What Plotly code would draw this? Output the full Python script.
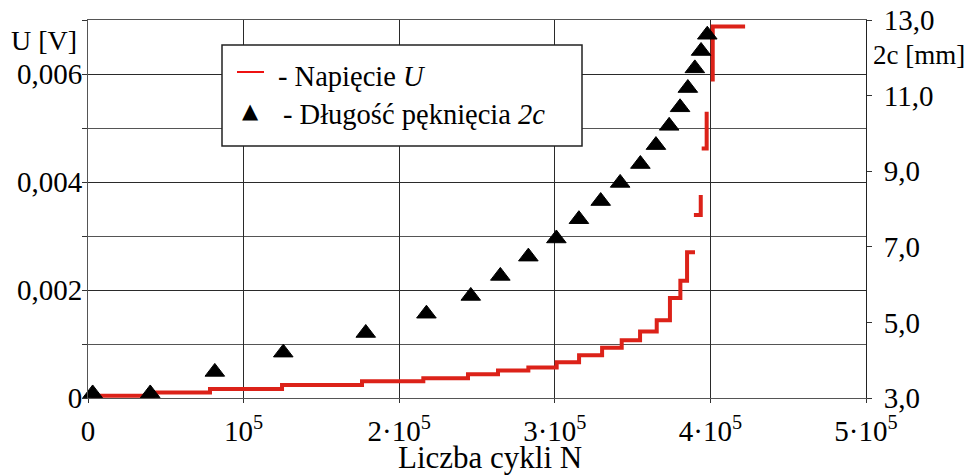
import plotly.graph_objects as go

# ---- data ----
# crack length 2c [mm] vs number of cycles N (right axis)
N_crack = [3000, 40000, 81500, 125500, 178500, 217500, 246000, 265000, 283000, 301000,
           315500, 329500, 342000, 355000, 365000, 373500, 380500, 385500, 390000, 394000, 398000]
crack_2c = [3.12, 3.12, 3.69, 4.20, 4.72, 5.23, 5.70, 6.23, 6.74, 7.22,
            7.73, 8.21, 8.69, 9.19, 9.69, 10.20, 10.69, 11.20, 11.72, 12.18, 12.61]

# voltage U [V] vs N (left axis), step-wise, None = gap in the record
N_volt = [2000, 41800, 78400, 124700, 176100, 215500, 244200, 263500, 283000, 301200,
          315600, 330400, 343000, 354800, 365500, 374000, 380700, 385000, 390100, None,
          389400, 393800, None,
          394400, 397600, None,
          401500, 401500, 422300]
U_volt = [0.00004, 0.00010, 0.000167, 0.00024, 0.00031, 0.000365, 0.00044, 0.00051, 0.000565, 0.00066,
          0.00079, 0.00093, 0.00107, 0.00123, 0.00144, 0.00185, 0.00217, 0.00270, 0.00270, None,
          0.00339, 0.00376, None,
          0.00462, 0.00530, None,
          0.00586, 0.00688, 0.00688]

x_tickvals = [0, 100000, 200000, 300000, 400000, 500000]
x_ticktext = ["0", "10<sup>5</sup>", "2·10<sup>5</sup>", "3·10<sup>5</sup>", "4·10<sup>5</sup>", "5·10<sup>5</sup>"]
y_tickvals = [0, 0.002, 0.004, 0.006]
y_ticktext = ["0", "0,002", "0,004", "0,006"]
y_minor_step = 0.001
y2_tickvals = [3, 5, 7, 9, 11, 13]
y2_ticktext = ["3,0", "5,0", "7,0", "9,0", "11,0", "13,0"]

FONT = "Liberation Serif"
RED = "#dc2219"
GRID = "#2a2a2a"

fig = go.Figure()
fig.add_trace(go.Scatter(
    x=N_volt, y=U_volt, mode="lines", line=dict(color=RED, width=4, shape="hv"),
    connectgaps=False, showlegend=False, yaxis="y", cliponaxis=False))
fig.add_trace(go.Scatter(
    x=N_crack, y=crack_2c, mode="markers",
    marker=dict(symbol="triangle-up", size=17, color="black", line=dict(color="black", width=1)),
    showlegend=False, yaxis="y2", cliponaxis=False))

# the page body has an 8px margin, so the figure is made 8px smaller and
# everything is laid out in page pixels minus that offset
OFF = 8
W, H = 972 - OFF, 475 - OFF
PX0, PX1, PY0, PY1 = 88, 866, 20, 398          # plot area in page pixels
L, R, T, B = PX0 - OFF, W - (PX1 - OFF), PY0 - OFF, H - (PY1 - OFF)
pw, ph = PX1 - PX0, PY1 - PY0


def px(x):
    return (x - PX0) / pw


def py(y):
    return (PY1 - y) / ph


fig.update_layout(
    width=W, height=H, margin=dict(l=L, r=R, t=T, b=B, autoexpand=False),
    paper_bgcolor="white", plot_bgcolor="white",
    font=dict(family=FONT, size=29, color="black"),
    xaxis=dict(range=[0, 500000], tickvals=x_tickvals, ticktext=x_ticktext,
               showgrid=True, gridcolor=GRID, gridwidth=1, zeroline=False,
               showline=True, linecolor="#555", linewidth=1, mirror=True,
               ticks="outside", ticklen=4, tickcolor="#333", automargin=False,
               ticklabeloverflow="allow", ticklabelstandoff=3,
               tickfont=dict(family=FONT, size=29)),
    yaxis=dict(range=[0, 0.007], tickvals=y_tickvals, ticktext=y_ticktext,
               showgrid=True, gridcolor=GRID, gridwidth=1, zeroline=False,
               showline=True, linecolor="#555", linewidth=1,
               ticks="outside", ticklen=5, tickcolor="#333", automargin=False,
               ticklabeloverflow="allow", ticklabelstandoff=-6,
               minor=dict(tick0=0, dtick=y_minor_step, ticks="outside", ticklen=5,
                          tickcolor="#333", showgrid=True, gridcolor="#555", gridwidth=1),
               tickfont=dict(family=FONT, size=29)),
    yaxis2=dict(range=[3, 13], tickvals=y2_tickvals, ticktext=y2_ticktext,
                overlaying="y", side="right", showgrid=False, zeroline=False,
                showline=True, linecolor="#222", linewidth=1,
                ticks="outside", ticklen=5, tickcolor="#333", automargin=False,
                ticklabeloverflow="allow", ticklabelstandoff=6,
                tickfont=dict(family=FONT, size=29)),
    showlegend=False,
)

# legend box
fig.add_shape(type="rect", xref="paper", yref="paper",
              x0=px(222), x1=px(582), y0=py(146), y1=py(45),
              line=dict(color="#222", width=1.5), fillcolor="white", layer="above")
fig.add_shape(type="line", xref="paper", yref="paper",
              x0=px(237), x1=px(264), y0=py(72), y1=py(72),
              line=dict(color="#ee1111", width=2), layer="above")

ann = [
    dict(text="- Napięcie <i>U</i>", x=px(276), y=py(76), xanchor="left", yanchor="middle", size=28.5),
    dict(text="- Długość pęknięcia <i>2c</i>", x=px(281), y=py(115), xanchor="left", yanchor="middle", size=28.5),
    dict(text="U [V]", x=px(44), y=py(40), xanchor="center", yanchor="middle", size=28),
    dict(text="2c [mm]", x=px(919), y=py(55), xanchor="center", yanchor="middle", size=27),
    dict(text="Liczba cykli N", x=px(490), y=py(458), xanchor="center", yanchor="middle", size=31),
]
for a in ann:
    fig.add_annotation(text=a["text"], x=a["x"], y=a["y"], xref="paper", yref="paper",
                       xanchor=a["xanchor"], yanchor=a["yanchor"], showarrow=False,
                       font=dict(family=FONT, size=a["size"], color="black"))
fig.add_annotation(text="▲", x=px(250), y=py(111), xref="paper", yref="paper",
                   xanchor="center", yanchor="middle", showarrow=False,
                   font=dict(family="DejaVu Sans", size=21, color="black"))

fig.write_html("out.html")
